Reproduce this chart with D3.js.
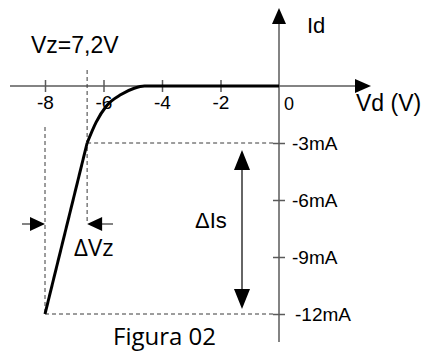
<!DOCTYPE html>
<html>
<head>
<meta charset="utf-8">
<script src="https://cdn.jsdelivr.net/npm/d3@7"></script>
<style>
  body { margin: 0; background: #fff; }
  svg { display: block; }
  .ax text { font-family: "Liberation Sans", Arial, sans-serif; fill: #000; }
</style>
</head>
<body>
<div id="chart"></div>
<script>
// zener characteristic, values
var xTicks = [-8, -6, -4, -2];
var yTicks = [-3, -6, -9, -12];
var vd = [-8, -6.56, -6.25, -5.9, -5.4, -4.95, -4.6, 0];     // V
var id = [-12, -3, -1.9, -1.05, -0.45, -0.12, 0, 0];          // mA
var vzLabel = "Vz=7,2V";

var width = 426, height = 354;

var svg = d3.select("#chart").append("svg")
  .attr("width", width)
  .attr("height", height);

var x = d3.scaleLinear().domain([-8, 0]).range([45, 279]);
var y = d3.scaleLinear().domain([0, -12]).range([86, 314]);

var axisColor = "#5a5a5a";
var dash = "4,3";

function tri(p) { return "M" + p.map(function (d) { return d.join(","); }).join("L") + "Z"; }

// axis lines with arrows
svg.append("line").attr("x1", 10).attr("x2", 358).attr("y1", y(0)).attr("y2", y(0))
  .attr("stroke", axisColor).attr("stroke-width", 1.5);
svg.append("path").attr("d", tri([[371, y(0)], [355, y(0) - 7], [355, y(0) + 7]])).attr("fill", "#000");

svg.append("line").attr("x1", x(0)).attr("x2", x(0)).attr("y1", 22).attr("y2", 342)
  .attr("stroke", axisColor).attr("stroke-width", 1.5);
svg.append("path").attr("d", tri([[x(0), 8], [x(0) - 7, 24], [x(0) + 7, 24]])).attr("fill", "#000");

// x ticks
var gx = svg.append("g").attr("class", "ax")
  .attr("transform", "translate(0," + y(0) + ")")
  .call(d3.axisBottom(x).tickValues(xTicks).tickSizeOuter(0).tickFormat(function (d) { return String(d); }));
gx.select(".domain").remove();
gx.selectAll(".tick line").attr("y1", -6).attr("y2", 6).attr("stroke", axisColor).attr("stroke-width", 1.5);
gx.selectAll(".tick text").attr("y", 10).attr("font-size", 19);

// y ticks
var gy = svg.append("g").attr("class", "ax")
  .attr("transform", "translate(" + x(0) + ",0)")
  .call(d3.axisRight(y).tickValues(yTicks).tickSizeOuter(0).tickFormat(function (d) { return d + "mA"; }));
gy.select(".domain").remove();
gy.selectAll(".tick line").attr("x1", -6).attr("x2", 6).attr("stroke", axisColor).attr("stroke-width", 1.5);
gy.selectAll(".tick text").attr("x", function (d) { return d <= -10 ? 16 : 13; }).attr("font-size", 19);

svg.append("text").attr("x", 289).attr("y", 110).attr("text-anchor", "middle")
  .attr("font-family", "Liberation Sans, Arial").attr("font-size", 18).text("0");

// axis titles
svg.append("text").attr("x", 356).attr("y", 111)
  .attr("font-family", "Liberation Sans, Arial").attr("font-size", 23).text("Vd (V)");
svg.append("text").attr("x", 307).attr("y", 33)
  .attr("font-family", "Liberation Sans, Arial").attr("font-size", 22).text("Id");
svg.append("text").attr("x", 31).attr("y", 53)
  .attr("font-family", "Liberation Sans, Arial").attr("font-size", 23).text(vzLabel);

// dashed guides
var g = svg.append("g").attr("stroke", "#3a3a3a").attr("stroke-width", 1).attr("stroke-dasharray", dash).attr("fill", "none");
g.append("line").attr("x1", x(vd[1])).attr("x2", x(0) - 6).attr("y1", y(id[1])).attr("y2", y(id[1]));
g.append("line").attr("x1", x(vd[0])).attr("x2", x(0) - 6).attr("y1", y(id[0])).attr("y2", y(id[0]));
g.append("line").attr("x1", x(vd[1])).attr("x2", x(vd[1])).attr("y1", 70).attr("y2", 224);
g.append("line").attr("x1", x(vd[0])).attr("x2", x(vd[0])).attr("y1", 127).attr("y2", y(id[0]));

// characteristic curve
var pts = vd.map(function (v, i) { return [v, id[i]]; });
var lin = d3.line().x(function (d) { return x(d[0]); }).y(function (d) { return y(d[1]); });
var knee = d3.line().x(function (d) { return x(d[0]); }).y(function (d) { return y(d[1]); }).curve(d3.curveMonotoneX);
svg.append("path").attr("d", lin(pts.slice(0, 2))).attr("stroke", "#000").attr("stroke-width", 3).attr("fill", "none");
svg.append("path").attr("d", knee(pts.slice(1))).attr("stroke", "#000").attr("stroke-width", 3).attr("fill", "none");

// delta Vz arrows
var ay = 224;
var xl = x(vd[0]), xr = x(vd[1]);
svg.append("line").attr("x1", 22).attr("x2", xl - 10).attr("y1", ay).attr("y2", ay).attr("stroke", axisColor).attr("stroke-width", 1.5);
svg.append("path").attr("d", tri([[xl, ay], [xl - 15, ay - 7], [xl - 15, ay + 7]])).attr("fill", "#000");
svg.append("line").attr("x1", xr + 10).attr("x2", 113).attr("y1", ay).attr("y2", ay).attr("stroke", axisColor).attr("stroke-width", 1.5);
svg.append("path").attr("d", tri([[xr, ay], [xr + 15, ay - 7], [xr + 15, ay + 7]])).attr("fill", "#000");
svg.append("text").attr("x", 74).attr("y", 256)
  .attr("font-family", "Open Sans, sans-serif").attr("font-size", 24).text("\u0394Vz");

// delta Is arrow
var ax = 242, yt = y(id[1]) + 7, yb = y(id[0]) - 5;
svg.append("line").attr("x1", ax).attr("x2", ax).attr("y1", yt + 15).attr("y2", yb - 15).attr("stroke", "#333").attr("stroke-width", 1.5);
svg.append("path").attr("d", tri([[ax, yt], [ax - 8, yt + 20], [ax + 8, yt + 20]])).attr("fill", "#000");
svg.append("path").attr("d", tri([[ax, yb], [ax - 8, yb - 20], [ax + 8, yb - 20]])).attr("fill", "#000");
svg.append("text").attr("x", 195).attr("y", 228)
  .attr("font-family", "Liberation Sans, Arial").attr("font-size", 22).text("\u0394Is");

svg.append("text").attr("x", 113).attr("y", 345)
  .attr("font-family", "Open Sans, sans-serif").attr("font-size", 24).text("Figura 02");
</script>
</body>
</html>
